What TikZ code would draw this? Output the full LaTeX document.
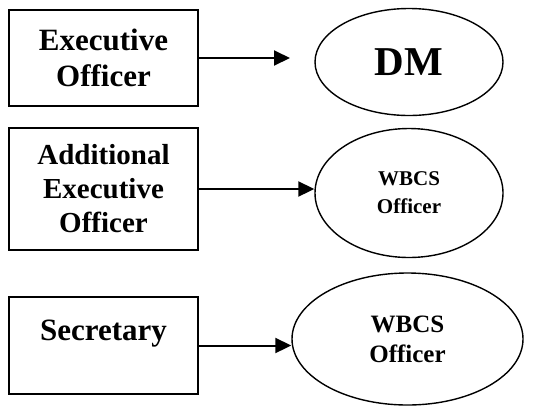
\documentclass[tikz,border=0pt]{standalone}
\usepackage{fontspec}
\setmainfont{Liberation Serif}
\usetikzlibrary{arrows.meta,positioning,shapes.geometric}

\begin{document}
\begin{tikzpicture}[x=1pt, y=-1pt,
  post/.style={draw, line width=2pt, minimum width=189pt, minimum height=96pt,
               align=center, inner sep=0pt,
               font=\fontsize{31}{36}\selectfont\bfseries},
  cadre/.style={draw, ellipse, line width=1.4pt, inner sep=0pt, align=center,
                font=\fontsize{21}{28}\selectfont\bfseries},
  arr/.style={-{Triangle[length=16pt,width=15pt]}, line width=2pt}]
\useasboundingbox (0,0) rectangle (534,416);
\node[post] (eo) at (103.5,58) {Executive\\Officer};
\node[cadre, minimum width=188pt, minimum height=107pt,
      font=\fontsize{41}{44}\selectfont\bfseries] (dm) at (409,62) {DM};
\node[post, minimum height=122pt, font=\fontsize{29}{34}\selectfont\bfseries]
  (aeo) at (103.5,189) {Additional\\Executive\\Officer};
\node[cadre, minimum width=188pt, minimum height=129pt] (wbcsa) at (409,193)
  {WBCS\\Officer};
\node[post, minimum height=97pt, text height=22pt, text depth=33pt]
  (sec) at (103.5,345.5) {Secretary};
\node[cadre, minimum width=231pt, minimum height=132pt,
      font=\fontsize{25}{30}\selectfont\bfseries] (wbcsb) at (407.5,339)
  {WBCS\\Officer};
\coordinate (dmend) at (290,58);
\draw[arr] (eo) -- (dmend);
\draw[arr] (aeo.east) -- (aeo.east -| wbcsa.west);
\draw[arr] (sec.east) -- (sec.east -| wbcsb.west);
\end{tikzpicture}
\end{document}
